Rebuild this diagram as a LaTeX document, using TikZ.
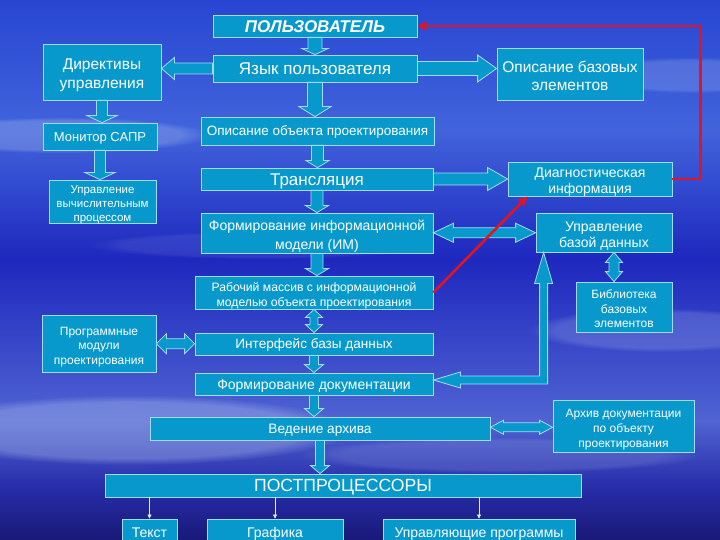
\documentclass[tikz,border=0pt]{standalone}
\usepackage{fontspec}
\setmainfont{Liberation Sans}
\usepackage{tikz}
\usetikzlibrary{calc,arrows.meta,fadings}

\definecolor{boxblue}{RGB}{8,153,204}
\definecolor{boxedge}{RGB}{160,220,245}
\definecolor{redline}{RGB}{225,20,35}
\definecolor{skytop}{RGB}{40,70,210}
\definecolor{skystreak}{RGB}{65,100,220}
\definecolor{skydeep}{RGB}{30,40,190}
\definecolor{skycloud}{RGB}{80,100,210}
\definecolor{skylow}{RGB}{40,45,170}
\definecolor{skyfoot}{RGB}{25,25,120}
\definecolor{cloud}{RGB}{200,215,245}

\pgfdeclareverticalshading{sky}{100bp}{color(0bp)=(skyfoot); color(25bp)=(skyfoot); color(30bp)=(skylow); color(36bp)=(skycloud); color(51bp)=(skydeep); color(63bp)=(skystreak); color(75bp)=(skytop); color(100bp)=(skytop)}

% several lines, set a little lower like in the slide
\newcommand{\boxtext}[1]{\raisebox{-3.5pt}[\height][\depth]{\begin{tabular}{@{}c@{}}#1\end{tabular}}}

\tikzset{
	box/.style={fill=boxblue, draw=boxedge, line width=0.8pt, text=white, inner sep=0pt},
	one/.style={text height=#1, text depth=0pt},
	wh/.style 2 args={minimum width=#1, minimum height=#2},
	fat/.style={fill=boxblue, draw=boxedge, line width=0.8pt, line join=miter},
	redarrow/.style={draw=redline, line width=2.6pt, line join=miter, -{Triangle[length=9pt,width=9pt]}},
	thinarrow/.style={draw=white!85!cyan, line width=0.7pt, -{Triangle[length=4pt,width=4pt]}},
	big/.style={font=\fontsize{17}{20}\selectfont},
	mid/.style={font=\fontsize{14}{16}\selectfont},
	small/.style={font=\fontsize{12}{14.5}\selectfont},
}

% fat block arrows: from, to, half shaft, half head, head length
\newcommand{\fatdown}[5]{%
	\draw[fat] let \p1=(#1.south), \p2=(#2.north) in
		(\x1-#3,\y1) -- (\x1-#3,\y2+#5) -- (\x1-#4,\y2+#5) -- (\x1,\y2)
		-- (\x1+#4,\y2+#5) -- (\x1+#3,\y2+#5) -- (\x1+#3,\y1) -- cycle;}
\newcommand{\fatright}[5]{%
	\draw[fat] let \p1=(#1.east), \p2=(#2.west) in
		(\x1,\y1+#3) -- (\x2-#5,\y1+#3) -- (\x2-#5,\y1+#4) -- (\x2,\y1)
		-- (\x2-#5,\y1-#4) -- (\x2-#5,\y1-#3) -- (\x1,\y1-#3) -- cycle;}
\newcommand{\fatleft}[5]{%
	\draw[fat] let \p1=(#1.west), \p2=(#2.east) in
		(\x1,\y1+#3) -- (\x2+#5,\y1+#3) -- (\x2+#5,\y1+#4) -- (\x2,\y1)
		-- (\x2+#5,\y1-#4) -- (\x2+#5,\y1-#3) -- (\x1,\y1-#3) -- cycle;}
\newcommand{\fatboth}[5]{%
	\draw[fat] let \p1=(#1.east), \p2=(#2.west), \p3=($(#1.east)!.5!(#2.west)$) in
		(\x1,\y3) -- (\x1+#5,\y3+#4) -- (\x1+#5,\y3+#3) -- (\x2-#5,\y3+#3) -- (\x2-#5,\y3+#4) -- (\x2,\y3)
		-- (\x2-#5,\y3-#4) -- (\x2-#5,\y3-#3) -- (\x1+#5,\y3-#3) -- (\x1+#5,\y3-#4) -- cycle;}
\newcommand{\fatbothv}[5]{%
	\draw[fat] let \p1=(#1.south), \p2=(#2.north), \p3=($(#1.south)!.5!(#2.north)$) in
		(\x3,\y1) -- (\x3+#4,\y1-#5) -- (\x3+#3,\y1-#5) -- (\x3+#3,\y2+#5) -- (\x3+#4,\y2+#5) -- (\x3,\y2)
		-- (\x3-#4,\y2+#5) -- (\x3-#3,\y2+#5) -- (\x3-#3,\y1-#5) -- (\x3-#4,\y1-#5) -- cycle;}

\begin{document}
\begin{tikzpicture}[x=1pt,y=-1pt]
	\useasboundingbox (0,0) rectangle (720,540);
	\clip (0,0) rectangle (720,540);
	
	%sky
	\shade[shading=sky] (0,0) rectangle (720,540);
	\foreach \cx/\cy/\rx/\ry/\op in {60/135/150/18/0.25, 690/75/110/18/0.2, 660/330/130/22/0.2, 130/430/220/35/0.3, 500/455/200/18/0.15, 260/245/170/14/0.1}{
		\fill[cloud, opacity=\op, path fading=circle with fuzzy edge 20 percent] (\cx,\cy) ellipse ({\rx} and {\ry});
	}
	
	%boxes
	\node[box, one=12.2pt, wh={204pt}{22pt}, font=\fontsize{17}{19}\selectfont\bfseries\itshape] (user) at (315,26) {ПОЛЬЗОВАТЕЛЬ};
	\node[box, one=12.2pt, wh={204pt}{27pt}, big] (lang) at (315,68.5) {Язык пользователя};
	\node[box, wh={118pt}{56pt}, font=\fontsize{15.5}{19}\selectfont] (direct) at (102,72) {\boxtext{Директивы\\управления}};
	\node[box, wh={146pt}{52pt}, font=\fontsize{15.5}{18}\selectfont] (basedesc) at (570,74) {\boxtext{Описание базовых\\элементов}};
	\node[box, one=9.4pt, wh={114pt}{27pt}, font=\fontsize{13}{15}\selectfont] (monitor) at (100,136.5) {Монитор САПР};
	\node[box, wh={107pt}{43pt}, font=\fontsize{11.5}{14}\selectfont] (proc) at (102.5,201.5) {\boxtext{Управление\\вычислительным\\процессом}};
	\node[box, one=9.7pt, wh={233pt}{28pt}, font=\fontsize{13.5}{16}\selectfont] (objdesc) at (317.5,131) {Описание объекта проектирования};
	\node[box, one=12.2pt, wh={232pt}{22pt}, big] (transl) at (317,179) {Трансляция};
	\node[box, wh={164pt}{34pt}, mid] (diag) at (590,179) {\boxtext{Диагностическая\\информация}};
	\node[box, wh={232pt}{40pt}, font=\fontsize{14}{19}\selectfont] (im) at (317,233) {\boxtext{Формирование информационной\\модели (ИМ)}};
	\node[box, wh={136pt}{39pt}, mid] (dbctl) at (604,232.5) {\boxtext{Управление\\базой данных}};
	\node[box, wh={238pt}{33pt}, font=\fontsize{12.2}{15}\selectfont] (work) at (314,292.5) {\boxtext{Рабочий массив с информационной\\моделью объекта проектирования}};
	\node[box, wh={96pt}{50pt}, small] (lib) at (624,307) {\boxtext{Библиотека\\базовых\\элементов}};
	\node[box, wh={114pt}{57pt}, small] (progmod) at (99,343.5) {\boxtext{Программные\\модули\\проектирования}};
	\node[box, one=9.8pt, wh={238pt}{22pt}, font=\fontsize{13.6}{16}\selectfont] (dbif) at (314,344) {Интерфейс базы данных};
	\node[box, one=10.1pt, wh={238pt}{22pt}, mid] (doc) at (314,384) {Формирование документации};
	\node[box, one=9.9pt, wh={340pt}{23pt}, font=\fontsize{13.7}{16}\selectfont] (arch) at (320,428.5) {Ведение архива};
	\node[box, wh={141pt}{52pt}, font=\fontsize{12}{15}\selectfont] (archdoc) at (623.5,426) {\boxtext{Архив документации\\по объекту\\проектирования}};
	\node[box, one=12.7pt, wh={476pt}{23pt}, font=\fontsize{17.6}{20}\selectfont] (post) at (343,485.5) {ПОСТПРОЦЕССОРЫ};
	\node[box, one=10.1pt, wh={55pt}{26pt}, mid] (txt) at (149.5,532) {Текст};
	\node[box, one=10.1pt, wh={136pt}{26pt}, mid] (graph) at (275,532) {Графика};
	\node[box, one=10.1pt, wh={192pt}{26pt}, mid] (ctrl) at (479,532) {Управляющие программы};
	
	%block arrows
	\fatdown{user}{lang}{7pt}{13pt}{6pt}
	\fatdown{lang}{objdesc}{7.5pt}{16pt}{10pt}
	\foreach \a/\b in {direct/monitor, monitor/proc}{
		\fatdown{\a}{\b}{5.5pt}{15pt}{7pt}
	}
	\foreach \a/\b in {objdesc/transl, transl/im, im/work}{
		\fatdown{\a}{\b}{6pt}{11.5pt}{7pt}
	}
	\foreach \a/\b in {dbif/doc, doc/arch, arch/post}{
		\fatdown{\a}{\b}{4.5pt}{9.5pt}{8pt}
	}
	\fatleft{lang}{direct}{5.5pt}{11pt}{13pt}
	\fatright{lang}{basedesc}{7pt}{13.5pt}{19pt}
	\fatright{transl}{diag}{6pt}{11.5pt}{20pt}
	\fatboth{im}{dbctl}{5pt}{9.5pt}{20pt}
	\fatboth{progmod}{dbif}{5pt}{10pt}{10pt}
	\fatboth{arch}{archdoc}{4.5pt}{7pt}{13pt}
	\fatbothv{work}{dbif}{4pt}{8.5pt}{8pt}
	\fatbothv{dbctl}{lib}{5pt}{8.5pt}{10pt}
	
	%bent arrow between database control and documentation
	\draw[fat] let \p1=($(dbctl.south west)+(8,0)$), \p2=($(doc.east)+(0,-4)$) in
		(\x1,\y1) -- (\x1+9pt,\y1-31pt) -- (\x1+4pt,\y1-31pt) -- (\x1+4pt,\y2-4pt) -- (\x2+27pt,\y2-4pt)
		-- (\x2+27pt,\y2-8pt) -- (\x2,\y2) -- (\x2+27pt,\y2+8pt) -- (\x2+27pt,\y2+4pt)
		-- (\x1-4pt,\y2+4pt) -- (\x1-4pt,\y1-31pt) -- (\x1-9pt,\y1-31pt) -- cycle;
	
	%feedback
	\draw[redarrow] (diag.east) -- ++(28,0) |- (user.east);
	\draw[redarrow] (work.east) -- ($(diag.south west)+(20,0)$);
	
	%postprocessors
	\foreach \n in {txt,graph,ctrl}{
		\draw[thinarrow] (post.south -| \n.north) -- (\n.north);
	}
\end{tikzpicture}
\end{document}
